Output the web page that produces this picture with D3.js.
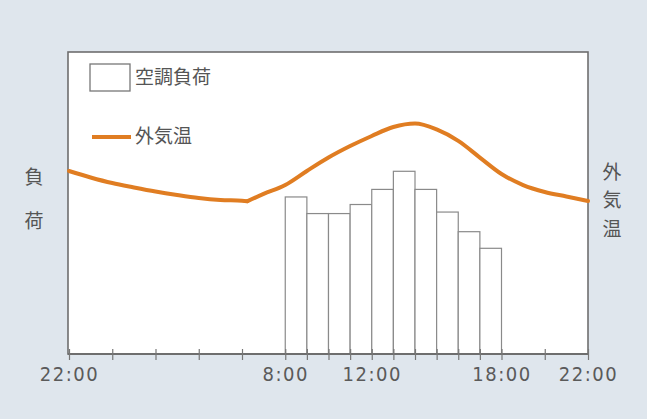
<!DOCTYPE html>
<html>
<head>
<meta charset="utf-8">
<script src="https://cdn.jsdelivr.net/npm/d3@7"></script>
<style>
  html, body { margin: 0; padding: 0; background: #dfe6ed; }
  svg { display: block; }
</style>
</head>
<body>
<svg id="chart" width="647" height="419"></svg>
<script>
// Air-conditioning load (hourly, relative units) from 8:00 to 18:00
const loadStart = ["8:00","9:00","10:00","11:00","12:00","13:00","14:00","15:00","16:00","17:00"];
const loadValues = [52, 46.5, 46.5, 49.5, 54.5, 60.5, 54.5, 47, 40.5, 35];

// Outdoor temperature (°C) over one day, 22:00 to 22:00
const tempTimes = ["22:00","23:00","0:00","1:00","2:00","3:00","4:00","5:00","6:00","6:15",
                   "7:00","8:00","9:00","10:00","11:00","12:00","13:00","14:00","15:00",
                   "16:00","17:00","18:00","19:00","20:00","21:00","22:00"];
const tempValues = [27.12, 26.69, 26.32, 26.03, 25.76, 25.53, 25.33, 25.2, 25.15, 25.12,
                    25.6, 26.19, 27.12, 28.01, 28.77, 29.44, 30.03, 30.26, 29.87,
                    29.11, 28.01, 26.92, 26.19, 25.73, 25.43, 25.13];

// Axis ticks along the day; only some carry a label
const tickTimes = ["22:00","0:00","2:00","4:00","6:00","8:00","9:00","10:00","11:00","12:00",
                   "13:00","14:00","15:00","16:00","17:00","18:00","20:00","22:00"];
const tickLabels = ["22:00","8:00","12:00","18:00","22:00"];

const legendLabels = ["空調負荷", "外気温"];
const leftTitle = ["負", "荷"];
const rightTitle = ["外", "気", "温"];

// Clock strings placed on a running timeline that starts at 22:00 on day 0
const base = new Date(2020, 0, 1, 22, 0);
const end = new Date(2020, 0, 2, 22, 0);
function toTimeline(list) {
  let prev = null;
  return list.map(s => {
    const [h, m] = s.split(":").map(Number);
    const d = new Date(2020, 0, 1, h, m);
    if (d < base) d.setDate(d.getDate() + 1);
    if (prev && d <= prev) d.setDate(d.getDate() + 1);
    prev = d;
    return d;
  });
}

const svg = d3.select("#chart");
const frame = { left: 68, right: 588, top: 52, bottom: 354 };

const x = d3.scaleTime().domain([base, end]).range([69, 588]);
const yLoad = d3.scaleLinear().domain([0, 100]).range([frame.bottom, frame.top]);
const yTemp = d3.scaleLinear().domain([15, 35]).range([frame.bottom, frame.top]);

// plot panel
svg.append("rect")
  .attr("x", frame.left).attr("y", frame.top)
  .attr("width", frame.right - frame.left).attr("height", frame.bottom - frame.top)
  .attr("fill", "#ffffff").attr("stroke", "#6e6e6e").attr("stroke-width", 1.6);

// load bars, one hour each
const hour = 3600 * 1000;
const barStarts = toTimeline(loadStart);
svg.append("g").selectAll("rect")
  .data(loadValues)
  .join("rect")
  .attr("x", (d, i) => x(barStarts[i]))
  .attr("y", d => yLoad(d))
  .attr("width", (d, i) => x(new Date(+barStarts[i] + hour)) - x(barStarts[i]))
  .attr("height", d => yLoad(0) - yLoad(d))
  .attr("fill", "#ffffff")
  .attr("stroke", "#8a8a8a")
  .attr("stroke-width", 1.2);

// temperature curve: smooth on each side of the early-morning low, with a corner at the low
const tempDates = toTimeline(tempTimes);
const temps = tempValues.map((v, i) => ({ t: tempDates[i], v }));
const lowIdx = d3.minIndex(tempValues);
const line = d3.line()
  .x(d => x(d.t))
  .y(d => yTemp(d.v))
  .curve(d3.curveMonotoneX);
svg.append("g").selectAll("path")
  .data([temps.slice(0, lowIdx + 1), temps.slice(lowIdx)])
  .join("path")
  .attr("d", line)
  .attr("fill", "none")
  .attr("stroke", "#e07d22")
  .attr("stroke-width", 4)
  .attr("stroke-linecap", "round")
  .attr("stroke-linejoin", "round");

// bottom axis
const tickDates = toTimeline(tickTimes);
const fmt = d3.timeFormat("%-H:%M");
const axis = d3.axisBottom(x)
  .tickValues(tickDates)
  .tickSizeInner(6)
  .tickSizeOuter(0)
  .tickPadding(10)
  .tickFormat(d => {
    const s = fmt(d);
    return tickLabels.includes(s) ? s : "";
  });
const gx = svg.append("g")
  .attr("transform", `translate(0,${frame.bottom})`)
  .call(axis);
gx.select(".domain").attr("stroke", "#6e6e6e").attr("stroke-width", 2.2)
  .attr("d", `M${frame.left},0H${frame.right}`);
gx.selectAll(".tick line").attr("stroke", "#777").attr("stroke-width", 1.2)
  .attr("y1", -5).attr("y2", 6);
gx.selectAll(".tick text")
  .attr("fill", "#5a5a5a")
  .attr("font-family", "'Liberation Sans Narrow', 'DejaVu Sans Condensed', 'Liberation Sans', sans-serif")
  .attr("font-size", 20)
  .attr("letter-spacing", 1.5)
  .attr("dy", "0.55em");

// legend
const cjk = "'Noto Sans CJK JP', 'Noto Sans CJK SC', sans-serif";
const lg = svg.append("g");
lg.append("rect")
  .attr("x", 90).attr("y", 64).attr("width", 40).attr("height", 27)
  .attr("fill", "#fff").attr("stroke", "#777").attr("stroke-width", 1.3);
lg.append("text").attr("x", 135).attr("y", 84)
  .attr("font-family", cjk).attr("font-size", 19).attr("fill", "#555")
  .text(legendLabels[0]);
lg.append("line")
  .attr("x1", 92).attr("x2", 131).attr("y1", 137).attr("y2", 137)
  .attr("stroke", "#e07d22").attr("stroke-width", 4);
lg.append("text").attr("x", 135).attr("y", 143)
  .attr("font-family", cjk).attr("font-size", 19).attr("fill", "#555")
  .text(legendLabels[1]);

// vertical titles
svg.append("g").selectAll("text").data(leftTitle).join("text")
  .attr("x", 34).attr("y", (d, i) => 175 + i * 44)
  .attr("text-anchor", "middle").attr("dominant-baseline", "central")
  .attr("font-family", cjk).attr("font-size", 19).attr("fill", "#555")
  .text(d => d);
svg.append("g").selectAll("text").data(rightTitle).join("text")
  .attr("x", 612).attr("y", (d, i) => 170 + i * 28.5)
  .attr("text-anchor", "middle").attr("dominant-baseline", "central")
  .attr("font-family", cjk).attr("font-size", 19).attr("fill", "#555")
  .text(d => d);
</script>
</body>
</html>
